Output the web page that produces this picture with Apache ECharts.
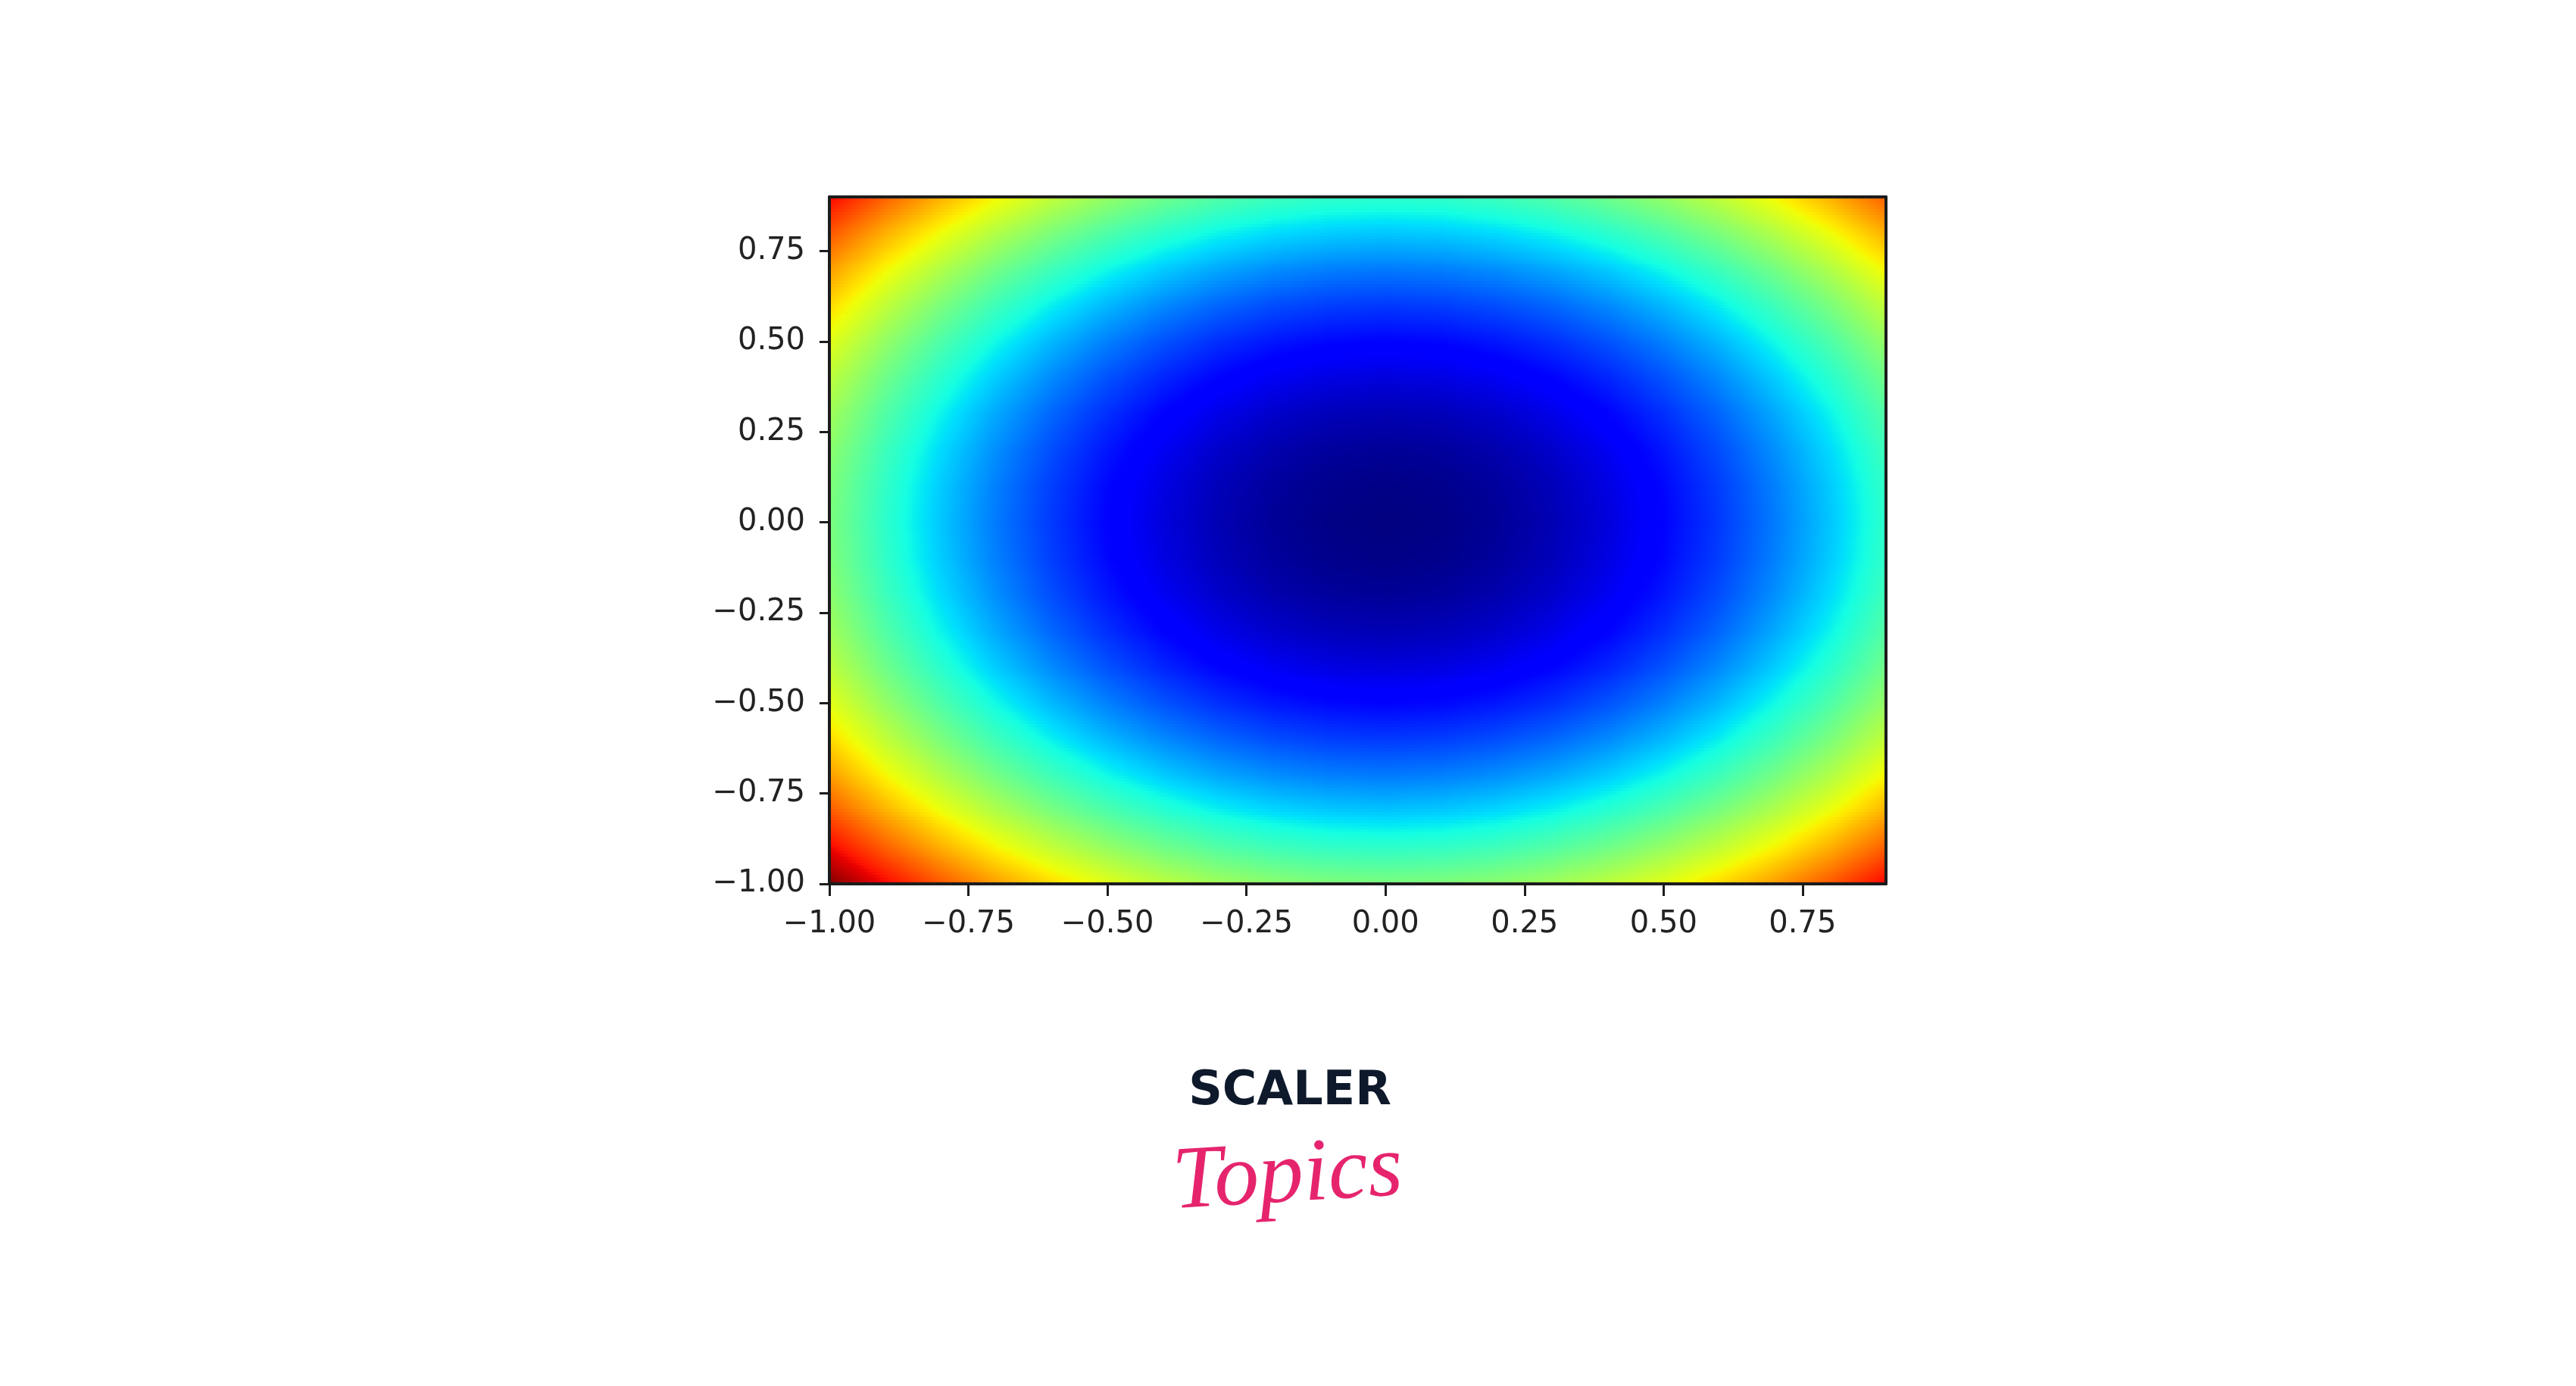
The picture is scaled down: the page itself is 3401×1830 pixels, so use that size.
<!DOCTYPE html>
<html>
<head>
<meta charset="utf-8">
<script src="https://cdn.jsdelivr.net/npm/echarts@6/dist/echarts.min.js"></script>
<style>
  html, body { margin: 0; padding: 0; background: #ffffff; }
  #chart { width: 3401px; height: 1830px; }
</style>
</head>
<body>
<div id="chart"></div>
<script>
// Grid coordinates (np.arange(-1, 1, 0.1))
const xs = [-1.0, -0.9, -0.8, -0.7, -0.6, -0.5, -0.4, -0.3, -0.2, -0.1, 0.0, 0.1, 0.2, 0.3, 0.4, 0.5, 0.6, 0.7, 0.8, 0.9];
const ys = [-1.0, -0.9, -0.8, -0.7, -0.6, -0.5, -0.4, -0.3, -0.2, -0.1, 0.0, 0.1, 0.2, 0.3, 0.4, 0.5, 0.6, 0.7, 0.8, 0.9];

// Z values, one row per y (bottom row first), one column per x
const zRows = [
  [2.00,1.81,1.64,1.49,1.36,1.25,1.16,1.09,1.04,1.01,1.00,1.01,1.04,1.09,1.16,1.25,1.36,1.49,1.64,1.81],
  [1.81,1.62,1.45,1.30,1.17,1.06,0.97,0.90,0.85,0.82,0.81,0.82,0.85,0.90,0.97,1.06,1.17,1.30,1.45,1.62],
  [1.64,1.45,1.28,1.13,1.00,0.89,0.80,0.73,0.68,0.65,0.64,0.65,0.68,0.73,0.80,0.89,1.00,1.13,1.28,1.45],
  [1.49,1.30,1.13,0.98,0.85,0.74,0.65,0.58,0.53,0.50,0.49,0.50,0.53,0.58,0.65,0.74,0.85,0.98,1.13,1.30],
  [1.36,1.17,1.00,0.85,0.72,0.61,0.52,0.45,0.40,0.37,0.36,0.37,0.40,0.45,0.52,0.61,0.72,0.85,1.00,1.17],
  [1.25,1.06,0.89,0.74,0.61,0.50,0.41,0.34,0.29,0.26,0.25,0.26,0.29,0.34,0.41,0.50,0.61,0.74,0.89,1.06],
  [1.16,0.97,0.80,0.65,0.52,0.41,0.32,0.25,0.20,0.17,0.16,0.17,0.20,0.25,0.32,0.41,0.52,0.65,0.80,0.97],
  [1.09,0.90,0.73,0.58,0.45,0.34,0.25,0.18,0.13,0.10,0.09,0.10,0.13,0.18,0.25,0.34,0.45,0.58,0.73,0.90],
  [1.04,0.85,0.68,0.53,0.40,0.29,0.20,0.13,0.08,0.05,0.04,0.05,0.08,0.13,0.20,0.29,0.40,0.53,0.68,0.85],
  [1.01,0.82,0.65,0.50,0.37,0.26,0.17,0.10,0.05,0.02,0.01,0.02,0.05,0.10,0.17,0.26,0.37,0.50,0.65,0.82],
  [1.00,0.81,0.64,0.49,0.36,0.25,0.16,0.09,0.04,0.01,0.00,0.01,0.04,0.09,0.16,0.25,0.36,0.49,0.64,0.81],
  [1.01,0.82,0.65,0.50,0.37,0.26,0.17,0.10,0.05,0.02,0.01,0.02,0.05,0.10,0.17,0.26,0.37,0.50,0.65,0.82],
  [1.04,0.85,0.68,0.53,0.40,0.29,0.20,0.13,0.08,0.05,0.04,0.05,0.08,0.13,0.20,0.29,0.40,0.53,0.68,0.85],
  [1.09,0.90,0.73,0.58,0.45,0.34,0.25,0.18,0.13,0.10,0.09,0.10,0.13,0.18,0.25,0.34,0.45,0.58,0.73,0.90],
  [1.16,0.97,0.80,0.65,0.52,0.41,0.32,0.25,0.20,0.17,0.16,0.17,0.20,0.25,0.32,0.41,0.52,0.65,0.80,0.97],
  [1.25,1.06,0.89,0.74,0.61,0.50,0.41,0.34,0.29,0.26,0.25,0.26,0.29,0.34,0.41,0.50,0.61,0.74,0.89,1.06],
  [1.36,1.17,1.00,0.85,0.72,0.61,0.52,0.45,0.40,0.37,0.36,0.37,0.40,0.45,0.52,0.61,0.72,0.85,1.00,1.17],
  [1.49,1.30,1.13,0.98,0.85,0.74,0.65,0.58,0.53,0.50,0.49,0.50,0.53,0.58,0.65,0.74,0.85,0.98,1.13,1.30],
  [1.64,1.45,1.28,1.13,1.00,0.89,0.80,0.73,0.68,0.65,0.64,0.65,0.68,0.73,0.80,0.89,1.00,1.13,1.28,1.45],
  [1.81,1.62,1.45,1.30,1.17,1.06,0.97,0.90,0.85,0.82,0.81,0.82,0.85,0.90,0.97,1.06,1.17,1.30,1.45,1.62]
];

// Tick labels
const xTicks = [-1.00, -0.75, -0.50, -0.25, 0.00, 0.25, 0.50, 0.75];
const yTicks = [-1.00, -0.75, -0.50, -0.25, 0.00, 0.25, 0.50, 0.75];

// Logo text
const logoTop = 'SCALER';
const logoBottom = 'Topics';

// ---- colormap (matplotlib "jet") ----
function seg(t, pts) {
  if (t <= pts[0][0]) return pts[0][1];
  for (let i = 1; i < pts.length; i++) {
    if (t <= pts[i][0]) {
      const a = pts[i - 1], b = pts[i];
      return a[1] + (b[1] - a[1]) * (t - a[0]) / (b[0] - a[0]);
    }
  }
  return pts[pts.length - 1][1];
}
const JR = [[0, 0], [0.35, 0], [0.66, 1], [0.89, 1], [1, 0.5]];
const JG = [[0, 0], [0.125, 0], [0.375, 1], [0.64, 1], [0.91, 0], [1, 0]];
const JB = [[0, 0.5], [0.11, 1], [0.34, 1], [0.65, 0], [1, 0]];
function jet(t) {
  t = Math.max(0, Math.min(1, t));
  const r = Math.round(255 * seg(t, JR));
  const g = Math.round(255 * seg(t, JG));
  const b = Math.round(255 * seg(t, JB));
  return 'rgb(' + r + ',' + g + ',' + b + ')';
}

let zMin = Infinity, zMax = -Infinity;
zRows.forEach(r => r.forEach(v => { zMin = Math.min(zMin, v); zMax = Math.max(zMax, v); }));

// Build cells (quads between grid vertices), each with its 4 corner values
const cells = [];
for (let j = 0; j < ys.length - 1; j++) {
  for (let i = 0; i < xs.length - 1; i++) {
    cells.push([xs[i], ys[j], xs[i + 1], ys[j + 1],
      zRows[j][i], zRows[j][i + 1], zRows[j + 1][i], zRows[j + 1][i + 1]]);
  }
}

const fmt = v => {
  const s = Number(v).toFixed(2);
  return s.replace('-', '\u2212');
};

const chart = echarts.init(document.getElementById('chart'), null, { renderer: 'canvas' });

const axisLineStyle = { color: '#1c1c1c', width: 4 };
const labelStyle = { fontFamily: 'DejaVu Sans', fontSize: 40, color: '#222222' };

chart.setOption({
  animation: false,
  backgroundColor: '#ffffff',
  grid: { left: 1095, top: 260, width: 1395, height: 907, containLabel: false },
  xAxis: [{
    type: 'value', min: -1, max: 0.9, interval: 0.25, z: 5,
    splitLine: { show: false },
    axisLine: { show: true, onZero: false, lineStyle: axisLineStyle },
    axisTick: { show: true, length: 16, lineStyle: { color: '#1c1c1c', width: 3 }, customValues: xTicks },
    axisLabel: Object.assign({ margin: 34, formatter: fmt, customValues: xTicks }, labelStyle)
  }, {
    type: 'value', position: 'top', min: -1, max: 0.9, z: 5,
    splitLine: { show: false },
    axisLine: { show: true, onZero: false, lineStyle: axisLineStyle },
    axisTick: { show: false }, axisLabel: { show: false }
  }],
  yAxis: [{
    type: 'value', min: -1, max: 0.9, interval: 0.25, z: 5,
    splitLine: { show: false },
    axisLine: { show: true, onZero: false, lineStyle: axisLineStyle },
    axisTick: { show: true, length: 13, lineStyle: { color: '#1c1c1c', width: 3 }, customValues: yTicks },
    axisLabel: Object.assign({ margin: 32, formatter: fmt, customValues: yTicks, padding: [8, 0, 0, 0] }, labelStyle)
  }, {
    type: 'value', position: 'right', min: -1, max: 0.9, z: 5,
    splitLine: { show: false },
    axisLine: { show: true, onZero: false, lineStyle: axisLineStyle },
    axisTick: { show: false }, axisLabel: { show: false }
  }],
  series: [{
    type: 'custom',
    xAxisIndex: 0, yAxisIndex: 0,
    data: cells,
    encode: { x: [0, 2], y: [1, 3] },
    silent: true,
    renderItem: function (params, api) {
      const x0 = api.value(0), y0 = api.value(1), x1 = api.value(2), y1 = api.value(3);
      const z00 = api.value(4), z10 = api.value(5), z01 = api.value(6), z11 = api.value(7);
      const p0 = api.coord([x0, y0]);
      const p1 = api.coord([x1, y1]);
      const xL = Math.round(p0[0]), xR = Math.round(p1[0]);
      const N = 12, S = 8;
      const children = [];
      for (let k = 0; k < N; k++) {
        const tm = (k + 0.5) / N;
        const zl = z00 + (z01 - z00) * tm;
        const zr = z10 + (z11 - z10) * tm;
        const yA = Math.round(p0[1] + (p1[1] - p0[1]) * (k / N));
        const yB = Math.round(p0[1] + (p1[1] - p0[1]) * ((k + 1) / N));
        if (yA - yB <= 0) continue;
        const stops = [];
        for (let s = 0; s <= S; s++) {
          const u = s / S;
          stops.push({ offset: u, color: jet((zl + (zr - zl) * u - zMin) / (zMax - zMin)) });
        }
        children.push({
          type: 'rect',
          shape: { x: xL, y: yB, width: xR - xL, height: yA - yB },
          style: { fill: { type: 'linear', x: 0, y: 0, x2: 1, y2: 0, colorStops: stops, global: false } }
        });
      }
      return { type: 'group', children: children };
    }
  }],
  graphic: [{
    type: 'text', x: 1703, y: 1442,
    style: { text: logoTop, fontFamily: 'DejaVu Sans', fontWeight: 'bold', fontSize: 62,
      fill: '#0e1a2b', textAlign: 'center', textVerticalAlign: 'middle' }
  }, {
    type: 'text', x: 1700, y: 1555, rotation: 0.06,
    style: { text: logoBottom, fontFamily: 'Liberation Serif', fontStyle: 'italic', fontSize: 118,
      fill: '#e6246e', textAlign: 'center', textVerticalAlign: 'middle' }
  }]
});
</script>
</body>
</html>
